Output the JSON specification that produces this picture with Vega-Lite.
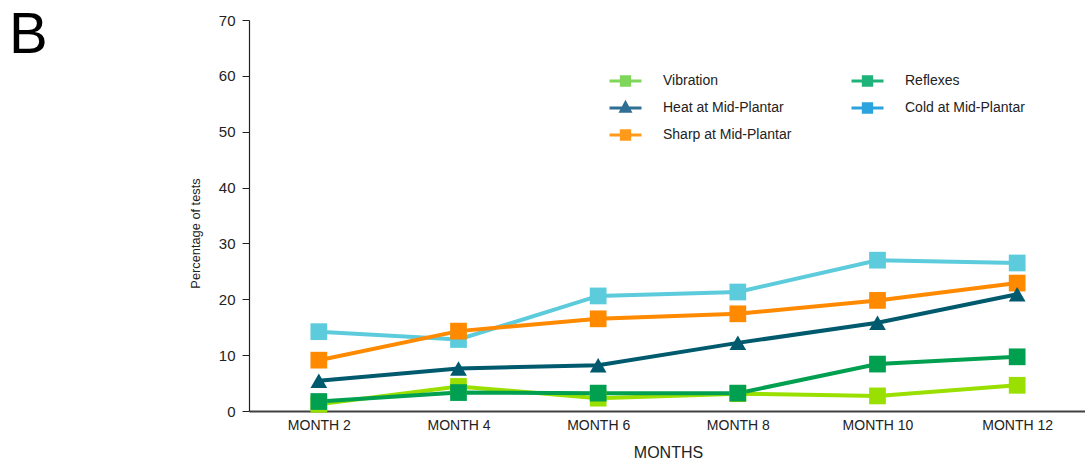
{
  "$schema": "https://vega.github.io/schema/vega-lite/v6.json",
  "autosize": {"type": "none"},
  "width": 838,
  "height": 391,
  "padding": {"left": 249, "top": 20, "right": 0, "bottom": 52},
  "background": "white",
  "config": {
    "font": "Liberation Sans",
    "view": {"stroke": null}
  },
  "title": {
    "text": "B",
    "font": "Liberation Sans",
    "fontSize": 58,
    "fontWeight": "normal",
    "color": "#000000",
    "anchor": "start",
    "frame": "group",
    "baseline": "alphabetic",
    "offset": 0,
    "dx": -240,
    "dy": 98
  },
  "datasets": {
    "tests": [
      {"month": "MONTH 2", "test": "Cold at Mid-Plantar", "pct": 14.2},
      {"month": "MONTH 4", "test": "Cold at Mid-Plantar", "pct": 12.8},
      {"month": "MONTH 6", "test": "Cold at Mid-Plantar", "pct": 20.6},
      {"month": "MONTH 8", "test": "Cold at Mid-Plantar", "pct": 21.3},
      {"month": "MONTH 10", "test": "Cold at Mid-Plantar", "pct": 27.0},
      {"month": "MONTH 12", "test": "Cold at Mid-Plantar", "pct": 26.5},
      {"month": "MONTH 2", "test": "Sharp at Mid-Plantar", "pct": 9.1},
      {"month": "MONTH 4", "test": "Sharp at Mid-Plantar", "pct": 14.3},
      {"month": "MONTH 6", "test": "Sharp at Mid-Plantar", "pct": 16.5},
      {"month": "MONTH 8", "test": "Sharp at Mid-Plantar", "pct": 17.4},
      {"month": "MONTH 10", "test": "Sharp at Mid-Plantar", "pct": 19.8},
      {"month": "MONTH 12", "test": "Sharp at Mid-Plantar", "pct": 22.9},
      {"month": "MONTH 2", "test": "Heat at Mid-Plantar", "pct": 5.4},
      {"month": "MONTH 4", "test": "Heat at Mid-Plantar", "pct": 7.6},
      {"month": "MONTH 6", "test": "Heat at Mid-Plantar", "pct": 8.2},
      {"month": "MONTH 8", "test": "Heat at Mid-Plantar", "pct": 12.2},
      {"month": "MONTH 10", "test": "Heat at Mid-Plantar", "pct": 15.8},
      {"month": "MONTH 12", "test": "Heat at Mid-Plantar", "pct": 20.9},
      {"month": "MONTH 2", "test": "Vibration", "pct": 1.2},
      {"month": "MONTH 4", "test": "Vibration", "pct": 4.4},
      {"month": "MONTH 6", "test": "Vibration", "pct": 2.3},
      {"month": "MONTH 8", "test": "Vibration", "pct": 3.1},
      {"month": "MONTH 10", "test": "Vibration", "pct": 2.7},
      {"month": "MONTH 12", "test": "Vibration", "pct": 4.6},
      {"month": "MONTH 2", "test": "Reflexes", "pct": 1.7},
      {"month": "MONTH 4", "test": "Reflexes", "pct": 3.3},
      {"month": "MONTH 6", "test": "Reflexes", "pct": 3.2},
      {"month": "MONTH 8", "test": "Reflexes", "pct": 3.2},
      {"month": "MONTH 10", "test": "Reflexes", "pct": 8.4},
      {"month": "MONTH 12", "test": "Reflexes", "pct": 9.7}
    ]
  },
  "data": {"name": "tests"},
  "encoding": {
    "x": {
      "field": "month",
      "type": "ordinal",
      "sort": null,
      "scale": {"type": "point", "padding": 0.5},
      "axis": {
        "title": "MONTHS",
        "titleFont": "Liberation Sans",
        "titleFontSize": 16,
        "titleFontWeight": "normal",
        "titleColor": "#222222",
        "titlePadding": 12,
        "labelFont": "Liberation Sans",
        "labelFontSize": 14,
        "labelColor": "#222222",
        "labelAngle": 0,
        "labelPadding": 7,
        "ticks": false,
        "grid": false,
        "domainColor": "#404040",
        "domainWidth": 2
      }
    },
    "y": {
      "field": "pct",
      "type": "quantitative",
      "scale": {"domain": [0, 70], "nice": false},
      "axis": {
        "title": "Percentage of tests",
        "titleFont": "Liberation Sans",
        "titleFontSize": 12.8,
        "titleFontWeight": "normal",
        "titleColor": "#222222",
        "titlePadding": 16,
        "titleY": 213,
        "values": [0, 10, 20, 30, 40, 50, 60, 70],
        "labelFont": "Liberation Sans",
        "labelFontSize": 15,
        "labelColor": "#222222",
        "labelPadding": 7,
        "tickSize": 7,
        "tickColor": "#222222",
        "domainColor": "#222222",
        "domainWidth": 1.2,
        "grid": false
      }
    }
  },
  "resolve": {
    "scale": {"color": "independent", "shape": "independent", "fill": "independent", "stroke": "independent"}
  },
  "layer": [
    {
      "mark": {"type": "line", "strokeWidth": 4},
      "encoding": {
        "color": {
          "field": "test",
          "type": "nominal",
          "scale": {
            "domain": ["Cold at Mid-Plantar", "Sharp at Mid-Plantar", "Heat at Mid-Plantar", "Vibration", "Reflexes"],
            "range": ["#5ccbdc", "#ff8a00", "#005a6e", "#99e000", "#00a050"]
          },
          "legend": null
        }
      }
    },
    {
      "mark": {"type": "point", "filled": true, "opacity": 1},
      "encoding": {
        "color": {
          "field": "test",
          "type": "nominal",
          "scale": {
            "domain": ["Cold at Mid-Plantar", "Sharp at Mid-Plantar", "Heat at Mid-Plantar", "Vibration", "Reflexes"],
            "range": ["#5ccbdc", "#ff8a00", "#005a6e", "#99e000", "#00a050"]
          },
          "legend": null
        },
        "shape": {
          "field": "test",
          "type": "nominal",
          "scale": {
            "domain": ["Cold at Mid-Plantar", "Sharp at Mid-Plantar", "Heat at Mid-Plantar", "Vibration", "Reflexes"],
            "range": ["square", "square", "triangle-up", "square", "square"]
          },
          "legend": null
        },
        "size": {
          "field": "test",
          "type": "nominal",
          "scale": {
            "domain": ["Cold at Mid-Plantar", "Sharp at Mid-Plantar", "Heat at Mid-Plantar", "Vibration", "Reflexes"],
            "range": [280, 280, 250, 280, 280]
          },
          "legend": null
        }
      }
    },
    {
      "transform": [{"filter": "false"}],
      "mark": {"type": "point", "filled": true, "opacity": 1, "size": 1024, "strokeWidth": 3},
      "encoding": {
        "fill": {
          "field": "test",
          "type": "nominal",
          "scale": {
            "domain": ["Vibration", "Heat at Mid-Plantar", "Sharp at Mid-Plantar", "Reflexes", "Cold at Mid-Plantar"],
            "range": ["#7fd65a", "#2f6f94", "#ff9a1a", "#1fb37a", "#2aa3de"]
          },
          "legend": {
            "title": null,
            "orient": "none",
            "legendX": 359,
            "legendY": 51,
            "columns": 2,
            "direction": "vertical",
            "columnPadding": 58,
            "rowPadding": 7,
            "clipHeight": 20,
            "symbolSize": 1024,
            "symbolStrokeWidth": 3,
            "symbolOpacity": 1,
            "labelFont": "Liberation Sans",
            "labelFontSize": 14,
            "labelColor": "#222222",
            "labelOffset": 20
          }
        },
        "stroke": {
          "field": "test",
          "type": "nominal",
          "scale": {
            "domain": ["Vibration", "Heat at Mid-Plantar", "Sharp at Mid-Plantar", "Reflexes", "Cold at Mid-Plantar"],
            "range": ["#7fd65a", "#2f6f94", "#ff9a1a", "#1fb37a", "#2aa3de"]
          },
          "legend": {
            "title": null,
            "orient": "none",
            "legendX": 359,
            "legendY": 51,
            "columns": 2,
            "direction": "vertical",
            "columnPadding": 58,
            "rowPadding": 7,
            "clipHeight": 20,
            "symbolSize": 1024,
            "symbolStrokeWidth": 3,
            "symbolOpacity": 1,
            "labelFont": "Liberation Sans",
            "labelFontSize": 14,
            "labelColor": "#222222",
            "labelOffset": 20
          }
        },
        "shape": {
          "field": "test",
          "type": "nominal",
          "scale": {
            "domain": ["Vibration", "Heat at Mid-Plantar", "Sharp at Mid-Plantar", "Reflexes", "Cold at Mid-Plantar"],
            "range": [
              "M-1,0H1M-0.26,-0.26H0.26V0.26H-0.26Z",
              "M-1,0H1M0,-0.32L0.28,0.2H-0.28Z",
              "M-1,0H1M-0.26,-0.26H0.26V0.26H-0.26Z",
              "M-1,0H1M-0.26,-0.26H0.26V0.26H-0.26Z",
              "M-1,0H1M-0.26,-0.26H0.26V0.26H-0.26Z"
            ]
          },
          "legend": {
            "title": null,
            "orient": "none",
            "legendX": 359,
            "legendY": 51,
            "columns": 2,
            "direction": "vertical",
            "columnPadding": 58,
            "rowPadding": 7,
            "clipHeight": 20,
            "symbolSize": 1024,
            "symbolStrokeWidth": 3,
            "symbolOpacity": 1,
            "labelFont": "Liberation Sans",
            "labelFontSize": 14,
            "labelColor": "#222222",
            "labelOffset": 20
          }
        }
      }
    }
  ]
}
